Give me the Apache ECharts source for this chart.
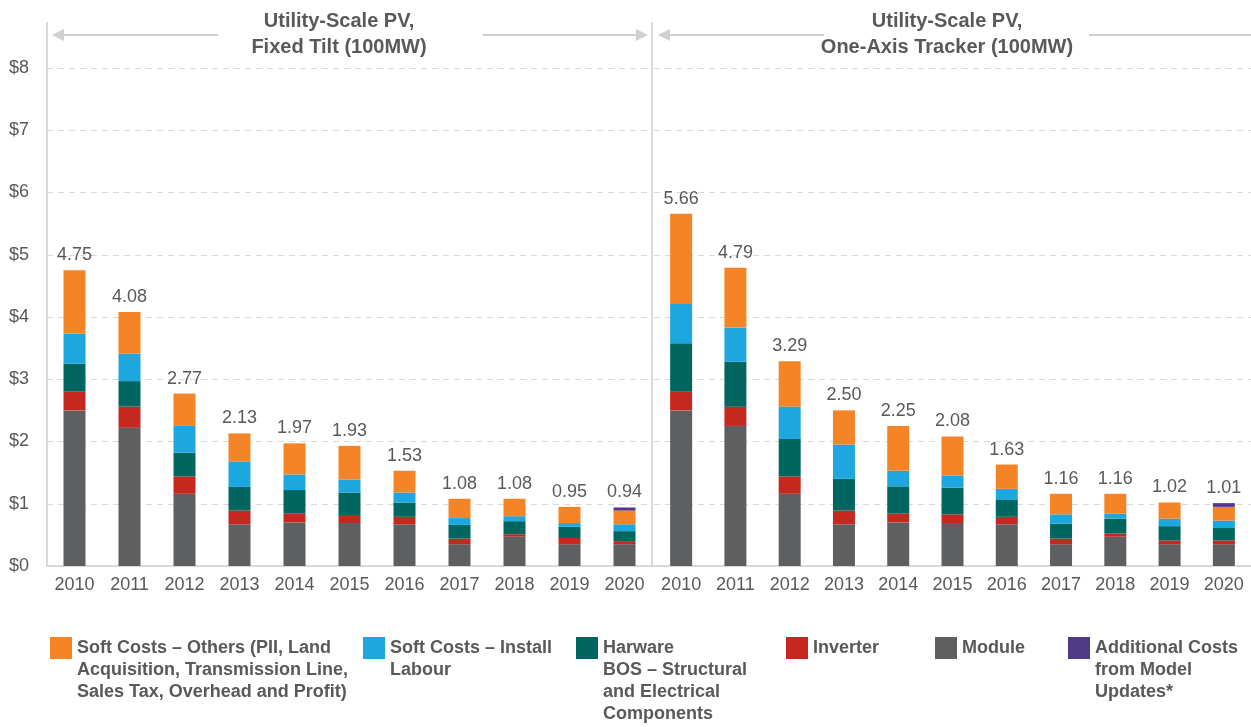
<!DOCTYPE html>
<html>
<head>
<meta charset="utf-8">
<script src="https://cdn.jsdelivr.net/npm/echarts@6/dist/echarts.min.js"></script>
<style>
  html, body { margin: 0; padding: 0; background: #fff; }
  #chart { width: 1251px; height: 727px; }
</style>
</head>
<body>
<div id="chart"></div>
<script>
// categories
var years = ['2010', '2011', '2012', '2013', '2014', '2015', '2016', '2017', '2018', '2019', '2020'];

// Fixed tilt (100MW), $/W
var fixedModule     = [2.50, 2.22, 1.16, 0.67, 0.70, 0.69, 0.67, 0.35, 0.47, 0.35, 0.35];
var fixedInverter   = [0.30, 0.34, 0.28, 0.22, 0.14, 0.13, 0.12, 0.09, 0.04, 0.10, 0.05];
var fixedBos        = [0.45, 0.41, 0.38, 0.38, 0.38, 0.36, 0.23, 0.22, 0.21, 0.18, 0.16];
var fixedInstall    = [0.48, 0.44, 0.43, 0.41, 0.25, 0.21, 0.16, 0.11, 0.08, 0.06, 0.11];
var fixedOthers     = [1.02, 0.67, 0.52, 0.45, 0.50, 0.54, 0.35, 0.31, 0.28, 0.26, 0.22];
var fixedAdditional = [0, 0, 0, 0, 0, 0, 0, 0, 0, 0, 0.05];
var fixedTotals     = ['4.75', '4.08', '2.77', '2.13', '1.97', '1.93', '1.53', '1.08', '1.08', '0.95', '0.94'];

// One-axis tracker (100MW), $/W
var trackModule     = [2.50, 2.25, 1.16, 0.67, 0.70, 0.69, 0.67, 0.35, 0.47, 0.35, 0.35];
var trackInverter   = [0.30, 0.31, 0.28, 0.22, 0.14, 0.14, 0.12, 0.09, 0.05, 0.06, 0.06];
var trackBos        = [0.78, 0.72, 0.60, 0.51, 0.44, 0.43, 0.27, 0.24, 0.24, 0.23, 0.20];
var trackInstall    = [0.63, 0.55, 0.52, 0.55, 0.25, 0.19, 0.18, 0.15, 0.08, 0.12, 0.12];
var trackOthers     = [1.45, 0.96, 0.73, 0.55, 0.72, 0.63, 0.39, 0.33, 0.32, 0.26, 0.22];
var trackAdditional = [0, 0, 0, 0, 0, 0, 0, 0, 0, 0, 0.06];
var trackTotals     = ['5.66', '4.79', '3.29', '2.50', '2.25', '2.08', '1.63', '1.16', '1.16', '1.02', '1.01'];

var yTicks = [0, 1, 2, 3, 4, 5, 6, 7, 8];

var names = ['Module', 'Inverter', 'Harware BOS', 'Soft Costs – Install Labour', 'Soft Costs – Others', 'Additional Costs'];
var colors = ['#5e5f61', '#c4281f', '#00665f', '#1ea7df', '#f58426', '#4f3a85'];

var legendItems = [
    { color: '#f58426', x: 50,   lines: ['Soft Costs – Others (PII, Land', 'Acquisition, Transmission Line,', 'Sales Tax, Overhead and Profit)'] },
    { color: '#1ea7df', x: 363,  lines: ['Soft Costs – Install', 'Labour'] },
    { color: '#00665f', x: 576,  lines: ['Harware', 'BOS – Structural', 'and Electrical', 'Components'] },
    { color: '#c4281f', x: 786,  lines: ['Inverter'] },
    { color: '#5e5f61', x: 935,  lines: ['Module'] },
    { color: '#4f3a85', x: 1068, lines: ['Additional Costs', 'from Model', 'Updates*'] }
];

var textGray = '#595959';
var font = '"Liberation Sans", Arial, sans-serif';

function makeSeries(axisIndex, stackName, data, totals) {
    var out = [];
    for (var i = 0; i < data.length; i++) {
        var s = {
            name: names[i],
            type: 'bar',
            stack: stackName,
            xAxisIndex: axisIndex,
            yAxisIndex: axisIndex,
            barWidth: 22,
            itemStyle: { color: colors[i] },
            data: data[i]
        };
        // totals sit on the top-most series of the stack
        if (i === data.length - 1) {
            s.label = {
                show: true,
                position: 'top',
                distance: 6,
                color: textGray,
                fontSize: 18,
                fontFamily: font,
                formatter: function (p) { return totals[p.dataIndex]; }
            };
        }
        out.push(s);
    }
    return out;
}

function xAxisFor(gridIndex) {
    return {
        type: 'category',
        gridIndex: gridIndex,
        data: years,
        axisTick: { show: false },
        axisLine: { lineStyle: { color: '#d9d9d9', width: 2 } },
        axisLabel: { color: textGray, fontSize: 18, fontFamily: font, margin: 10 }
    };
}

function yAxisFor(gridIndex, showLabels) {
    return {
        type: 'value',
        gridIndex: gridIndex,
        min: yTicks[0],
        max: yTicks[yTicks.length - 1],
        interval: 1,
        axisLine: { show: false },
        axisTick: { show: false },
        splitLine: { lineStyle: { color: '#d9d9d9', type: [6, 5], width: 1 } },
        axisLabel: {
            show: showLabels,
            color: textGray,
            fontSize: 18,
            fontFamily: font,
            margin: 18,
            formatter: function (v) { return '$' + v; }
        }
    };
}

function arrow(x1, x2, y, tipLeft, tipRight) {
    var g = [];
    var c = '#d0d0d0';
    g.push({ type: 'line', shape: { x1: x1, y1: y, x2: x2, y2: y }, style: { stroke: c, lineWidth: 2 } });
    if (tipLeft) {
        g.push({ type: 'polygon', shape: { points: [[x1 - 4, y], [x1 + 8, y - 6], [x1 + 8, y + 6]] }, style: { fill: c } });
    }
    if (tipRight) {
        g.push({ type: 'polygon', shape: { points: [[x2 + 4, y], [x2 - 8, y - 6], [x2 - 8, y + 6]] }, style: { fill: c } });
    }
    return g;
}

var graphics = [];
// vertical axis / divider lines reaching up past the top gridline
graphics.push({ type: 'line', shape: { x1: 47, y1: 22, x2: 47, y2: 566 }, style: { stroke: '#d9d9d9', lineWidth: 2 } });
graphics.push({ type: 'line', shape: { x1: 652, y1: 22, x2: 652, y2: 566 }, style: { stroke: '#d9d9d9', lineWidth: 2 } });

graphics = graphics.concat(arrow(56, 218, 35, true, false));
graphics = graphics.concat(arrow(483, 644, 35, false, true));
graphics = graphics.concat(arrow(662, 824, 35, true, false));
graphics = graphics.concat(arrow(1089, 1255, 35, false, false));

var titles = [
    { x: 339, lines: ['Utility-Scale PV,', 'Fixed Tilt (100MW)'] },
    { x: 947, lines: ['Utility-Scale PV,', 'One-Axis Tracker (100MW)'] }
];
titles.forEach(function (t) {
    graphics.push({
        type: 'text',
        x: t.x, y: 8,
        style: {
            text: t.lines.join('\n'),
            font: 'bold 20px ' + font,
            fill: textGray,
            textAlign: 'center',
            textVerticalAlign: 'top',
            lineHeight: 26
        }
    });
});

legendItems.forEach(function (it) {
    graphics.push({ type: 'rect', shape: { x: it.x, y: 637, width: 22, height: 22 }, style: { fill: it.color } });
    graphics.push({
        type: 'text',
        x: it.x + 27, y: 637,
        style: {
            text: it.lines.join('\n'),
            font: 'bold 18px ' + font,
            fill: textGray,
            textAlign: 'left',
            textVerticalAlign: 'top',
            lineHeight: 22
        }
    });
});

var chart = echarts.init(document.getElementById('chart'));
var option = {
    animation: false,
    backgroundColor: '#ffffff',
    grid: [
        { left: 47, top: 68, width: 605, bottom: 161 },
        { left: 654, top: 68, width: 605, bottom: 161 }
    ],
    xAxis: [xAxisFor(0), xAxisFor(1)],
    yAxis: [yAxisFor(0, true), yAxisFor(1, false)],
    series: makeSeries(0, 'fixed', [fixedModule, fixedInverter, fixedBos, fixedInstall, fixedOthers, fixedAdditional], fixedTotals)
        .concat(makeSeries(1, 'track', [trackModule, trackInverter, trackBos, trackInstall, trackOthers, trackAdditional], trackTotals)),
    graphic: graphics
};
chart.setOption(option);
</script>
</body>
</html>
